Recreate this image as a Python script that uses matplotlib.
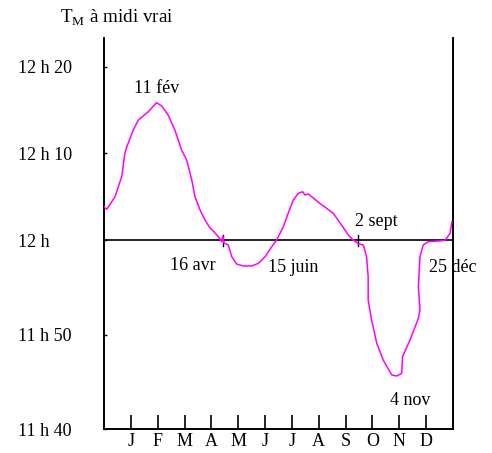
import numpy as np
import matplotlib
matplotlib.use('Agg')
import matplotlib.pyplot as plt

# ---- data ----
months = ['J', 'F', 'M', 'A', 'M', 'J', 'J', 'A', 'S', 'O', 'N', 'D']
ytick_vals = [-20, -10, 0, 10, 20]
ytick_labels = ['11 h 40', '11 h 50', '12 h', '12 h 10', '12 h 20']

# position along the year (month units, J tick = 1) and mean time at true noon (minutes after 12 h)
month_pos = [0.0, 0.10, 0.41, 0.66, 0.78, 0.85, 1.09, 1.28, 1.65, 1.96, 2.15, 2.39,
             2.64, 2.89, 3.08, 3.27, 3.39, 3.58, 3.76, 3.95, 4.07, 4.26, 4.38, 4.43,
             4.47, 4.63, 4.76, 4.94, 5.19, 5.50, 5.75, 6.00, 6.25, 6.43, 6.68, 6.86,
             7.05, 7.24, 7.40, 7.49, 7.61, 8.04, 8.54, 8.85, 9.10, 9.28, 9.46, 9.66,
             9.78, 9.84, 9.84, 9.97, 10.16, 10.40, 10.72, 10.90, 11.09, 11.12, 11.40,
             11.71, 11.77, 11.71, 11.77, 11.89, 12.08, 12.70, 12.89, 12.96]
tm_minutes = [3.84, 3.54, 4.99, 7.30, 10.03, 10.76, 12.69, 13.84, 14.80, 15.84, 15.46, 14.42,
              12.69, 10.38, 9.23, 6.92, 4.99, 3.46, 2.31, 1.38, 1.04, 0.38, -0.18, 0.46,
              -0.32, -0.53, -1.77, -2.54, -2.75, -2.75, -2.47, -1.77, -0.71, 0.0, 1.53, 3.08,
              4.61, 5.39, 5.57, 5.19, 5.31, 4.23, 3.08, 1.73, 0.58, 0.0, -0.37, -0.53,
              -1.77, -3.88, -6.35, -8.47, -10.93, -12.70, -14.29, -14.39, -14.11, -12.35, -10.58,
              -8.29, -7.41, -4.94, -1.77, -0.53, -0.18, -0.05, 0.77, 2.11]

event_labels = ['11 fév', '16 avr', '15 juin', '2 sept', '25 déc', '4 nov']
crossing_pos = [4.43, 9.46]

# ---- style ----
plt.rcParams['font.family'] = ['Liberation Serif', 'DejaVu Serif']
plt.rcParams['mathtext.fontset'] = 'custom'
plt.rcParams['mathtext.rm'] = 'Liberation Serif'
FS = 13


def fwd(y):
    y = np.asarray(y, dtype=float)
    return np.where(y >= 0, y * 8.67, y * 9.45)


def inv(v):
    v = np.asarray(v, dtype=float)
    return np.where(v >= 0, v / 8.67, v / 9.45)


fig = plt.figure(figsize=(4.92, 4.53), dpi=100)
ax = fig.add_axes([104 / 492, 24 / 453, 349 / 492, 391 / 453])
ax.set_yscale('function', functions=(fwd, inv))
ax.set_xlim(0, 13)
ax.set_ylim(-20, 23.3)

ax.axhline(0, color='black', lw=1.2, zorder=2)
ax.plot(month_pos, tm_minutes, color='#ff00ff', lw=1.1, zorder=3)
for cx in crossing_pos:
    ax.plot([cx, cx], [0.55, -0.6], color='black', lw=1.0, zorder=2)

# spines
ax.spines['top'].set_visible(False)
for s in ['left', 'right', 'bottom']:
    ax.spines[s].set_linewidth(1.4)
    ax.spines[s].set_color('black')

# x ticks
ax.set_xticks(range(1, len(months) + 1))
ax.set_xticklabels(months, fontsize=FS)
ax.tick_params(axis='x', direction='in', length=10, width=1.2, pad=3)

# y ticks
ax.set_yticks(ytick_vals)
ax.set_yticklabels(ytick_labels, fontsize=FS)
ax.tick_params(axis='y', direction='in', length=2.5, width=1.0, pad=62)
for lab in ax.get_yticklabels():
    lab.set_ha('left')
ax.yaxis.set_minor_locator(matplotlib.ticker.NullLocator())

# annotations
ann_pos = [(1.97, 17.5), (3.32, -2.75), (7.04, -2.86), (10.13, 2.19), (12.99, -2.86), (11.40, -17.0)]
for lab, (xx, yy) in zip(event_labels, ann_pos):
    ax.text(xx, yy, lab, fontsize=FS, ha='center', va='center', zorder=4, clip_on=False)

fig.text(117 / 492, 1 - 18 / 453, r'T$_{\mathregular{M}}$ à midi vrai', fontsize=FS + 0.8,
         ha='center', va='center')

fig.savefig('out.png', dpi=100, facecolor='white')
